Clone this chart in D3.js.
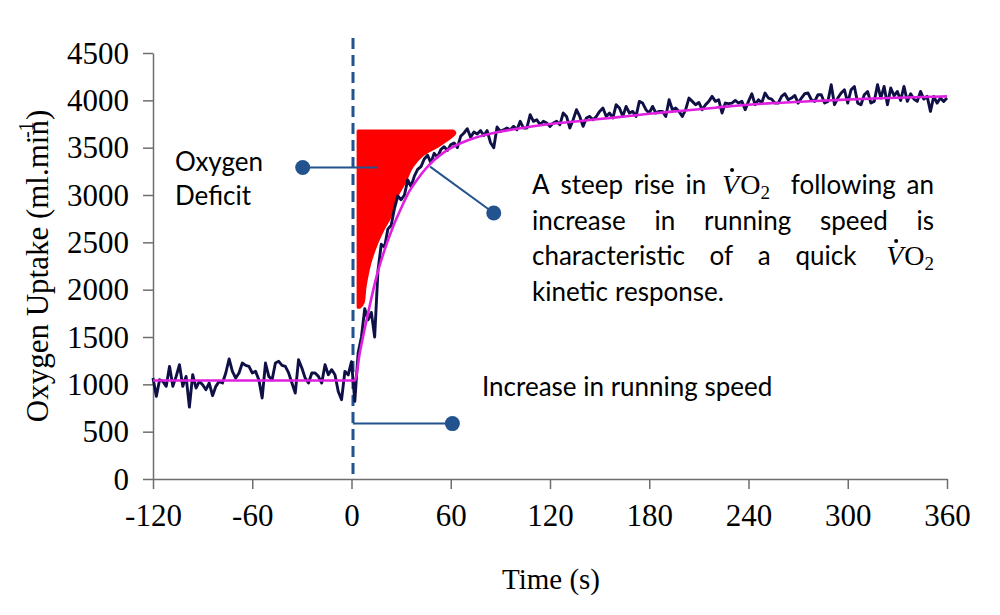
<!DOCTYPE html>
<html><head><meta charset="utf-8">
<script src="https://cdn.jsdelivr.net/npm/d3@7"></script>
<style>body{margin:0;background:#fff}svg{display:block}</style>
</head><body>
<svg id="c" width="1000" height="615"></svg>
<script>
// ---------- data ----------
const xTicks = [-120, -60, 0, 60, 120, 180, 240, 300, 360];
const yTicks = [0, 500, 1000, 1500, 2000, 2500, 3000, 3500, 4000, 4500];
const sampleStart = -120, sampleEnd = 360, sampleStep = 2; // breath samples every 2 s

// measured VO2 (ml/min), t = -120 .. 0
const vo2Baseline = [1066, 873, 1049, 1031, 979, 1190, 979, 1084, 1207, 979,
  1084, 760, 1102, 961, 1031, 996, 943, 1014, 880, 979,
  1031, 1014, 1120, 1268, 1137, 1066, 1120, 1225, 1200, 1190,
  1120, 1137, 1049, 856, 1225, 1084, 1049, 1225, 1243, 1200,
  1190, 1120, 1014, 908, 1260, 1172, 1066, 1014, 1120, 1120,
  1084, 1014, 1207, 1102, 1155, 1102, 925, 838, 1137, 1100, 1240];
// t = 2 .. 66
const vo2Rise = [820, 1330, 1500, 1800, 1680, 1760, 1500, 2200, 2480, 2450,
  2640, 2680, 2860, 2990, 2950, 3000, 3160, 3090, 3200, 3270,
  3300, 3380, 3420, 3340, 3440, 3400, 3480, 3510, 3470, 3530,
  3550, 3500, 3620];
// t = 68 .. 208
const vo2Plateau1 = [3655, 3700, 3610, 3665, 3645, 3680, 3628, 3680, 3555, 3500,
  3718, 3672, 3690, 3707, 3690, 3725, 3690, 3778, 3707, 3707,
  3848, 3778, 3795, 3743, 3778, 3760, 3725, 3760, 3778, 3743,
  3866, 3830, 3707, 3795, 3901, 3830, 3725, 3813, 3830, 3795,
  3830, 3883, 3919, 3830, 3866, 3813, 3954, 3919, 3830, 3936,
  3866, 3883, 3830, 3989, 3971, 3901, 3866, 3936, 3866, 3883,
  3883, 3830, 4006, 3901, 3919, 3883, 3830, 3901, 4024, 3989, 3954];
// t = 210 .. 360
const vo2Plateau2 = [3978, 3901, 3954, 3989, 4042, 3989, 4006, 3866, 3971, 3965,
  3971, 3999, 3971, 3989, 3901, 3989, 4070, 3954, 4006, 3971,
  4077, 4024, 4013, 3971, 3971, 4042, 4070, 4006, 4024, 4052,
  3971, 4024, 4070, 4077, 4006, 3989, 4059, 4059, 3971, 3989,
  4165, 3954, 4024, 4077, 4112, 3971, 4112, 4147, 3971, 3954,
  4059, 4094, 3971, 3989, 4165, 4024, 4147, 3954, 4130, 4048,
  4094, 3999, 4147, 3989, 4070, 4013, 3989, 4094, 4013, 4042,
  3883, 4042, 3971, 4024, 3989, 4024];

// fitted kinetic response
const fitTimes  = [-120, 0, 2, 5, 10, 15, 20, 25, 30, 35, 40, 45, 50, 55, 60, 70, 80, 90, 100, 120, 140, 160, 180, 200, 220, 240, 260, 280, 300, 320, 340, 360];
const fitValues = [1040, 1040, 1040, 1330, 1750, 2130, 2420, 2660, 2860, 3040, 3170, 3280, 3370, 3440, 3495, 3575, 3630, 3670, 3700, 3750, 3785, 3820, 3858, 3890, 3922, 3954, 3975, 3993, 4008, 4022, 4033, 4042];

// oxygen deficit shading
const deficitLeftTime = 4;
const deficitValues     = [3675, 3655, 3531, 3426, 3299, 3140, 2950, 2771, 2633, 2496, 2285, 2031, 1862, 1815];
const deficitRightTimes = [61.5, 62.5, 53.5, 43.2, 36.6, 32.3, 26.3, 23.3, 19.0, 15.4, 11.2, 8.2, 7.0, 5.0];

// annotation text
const yTitle = "Oxygen Uptake (ml.min)";
const yTitleSup = "-1";
const xTitle = "Time (s)";
const deficitLabel = ["Oxygen", "Deficit"];
const speedLabel = "Increase in running speed";
const paraLines = [
  ["A", "steep", "rise", "in", "VO2", "following", "an"],
  ["increase", "in", "running", "speed", "is"],
  ["characteristic", "of", "a", "quick", "VO2"],
  ["kinetic", "response."]
];

// ---------- chart ----------
const svg = d3.select("#c");
const x = d3.scaleLinear().domain([-120, 360]).range([153, 947]);
const y = d3.scaleLinear().domain([0, 4500]).range([479, 53]);
const serif = "'Liberation Serif','Times New Roman',serif";
const sans = "Lato, 'Open Sans', sans-serif";
const sansSize = 26;
const navy = "#0f1046", magenta = "#e020e0", blue = "#23538f", axisCol = "#6e6e6e";

const vo2All = vo2Baseline.concat(vo2Rise, vo2Plateau1, vo2Plateau2);
const times = d3.range(sampleStart, sampleEnd + 1, sampleStep);
const vo2Data = times.map((t, i) => ({t, v: vo2All[i]}));

// axes
const fmt = d => String(d);
const yAxis = d3.axisLeft(y).tickValues(yTicks).tickFormat(fmt).tickSizeInner(10).tickSizeOuter(0).tickPadding(14);
const xAxis = d3.axisBottom(x).tickValues(xTicks).tickFormat(fmt).tickSizeInner(10).tickSizeOuter(0).tickPadding(27);
const gy = svg.append("g").attr("transform", "translate(153,0)").call(yAxis);
const gx = svg.append("g").attr("transform", "translate(0,479)").call(xAxis);
[gx, gy].forEach(g => {
  g.selectAll("path,line").attr("stroke", axisCol).attr("stroke-width", 1.5);
  g.selectAll("text").attr("font-family", serif).attr("font-size", 31).attr("fill", "#000");
});
gy.selectAll("text").attr("dy", "0.33em");
gx.selectAll("text").attr("dy", "0.33em");

// deficit area
const defData = deficitValues.map((v, i) => ({v, r: deficitRightTimes[i]}));
svg.append("path").datum(defData)
  .attr("d", d3.area().y(d => y(d.v)).x0(x(deficitLeftTime)).x1(d => x(d.r)).curve(d3.curveCatmullRom))
  .attr("fill", "#ff0000").attr("stroke", "#ff0000").attr("stroke-width", 3).attr("stroke-linejoin", "round");

// dashed onset line
svg.append("line").attr("x1", x(0) + 1.5).attr("x2", x(0) + 1.5).attr("y1", 38).attr("y2", 479)
  .attr("stroke", blue).attr("stroke-width", 3).attr("stroke-dasharray", "11,6");

// noisy VO2
svg.append("path").datum(vo2Data)
  .attr("d", d3.line().x(d => x(d.t)).y(d => y(d.v)))
  .attr("fill", "none").attr("stroke", navy).attr("stroke-width", 2.9).attr("stroke-linejoin", "round");

// fit
svg.append("path").datum(fitTimes.map((t, i) => ({t, v: fitValues[i]})))
  .attr("d", d3.line().x(d => x(d.t)).y(d => y(d.v)).curve(d3.curveMonotoneX))
  .attr("fill", "none").attr("stroke", magenta).attr("stroke-width", 2.6);

// annotation pointers
function pointer(t0, v0, t1, v1) {
  svg.append("line").attr("x1", x(t0)).attr("y1", y(v0)).attr("x2", x(t1)).attr("y2", y(v1))
    .attr("stroke", blue).attr("stroke-width", 2);
  svg.append("circle").attr("cx", x(t1)).attr("cy", y(v1)).attr("r", 7.5).attr("fill", blue);
}
pointer(15.5, 3290, -29.5, 3290);
pointer(47.5, 3300, 86, 2810);
pointer(0.8, 585, 61, 585);

// text labels
const dl = svg.append("text").attr("font-family", sans).attr("font-size", sansSize).attr("fill", "#000");
dl.append("tspan").attr("x", 175).attr("y", 171).text(deficitLabel[0]);
dl.append("tspan").attr("x", 175).attr("y", 205).text(deficitLabel[1]);
svg.append("text").attr("x", 482).attr("y", 396).attr("font-family", sans).attr("font-size", sansSize).text(speedLabel);

// justified paragraph
const paraLeft = 532, paraRight = 934, paraBase = [194, 230, 265, 301];
paraLines.forEach((words, li) => {
  const toks = words.map(w => {
    const g = svg.append("g");
    let width;
    if (w === "VO2") {
      const t = g.append("text").attr("font-family", serif).attr("font-size", 28).attr("x", 5);
      t.append("tspan").attr("font-style", "italic").text("V");
      t.append("tspan").attr("dx", 1).text("O");
      t.append("tspan").attr("font-size", 19).attr("dy", 5).text("2");
      g.append("circle").attr("cx", 15).attr("cy", -24).attr("r", 2).attr("fill", "#000");
      width = t.node().getComputedTextLength() + 16;
    } else {
      const t = g.append("text").attr("font-family", sans).attr("font-size", sansSize).text(w);
      width = t.node().getComputedTextLength();
    }
    return {g, width, vo2: w === "VO2"};
  });
  const total = d3.sum(toks, d => d.width);
  const last = li === paraLines.length - 1;
  const endTrim = toks[toks.length - 1].vo2 ? 10 : 0;
  const gap = last ? 7 : (paraRight + endTrim - paraLeft - total) / (toks.length - 1);
  let cx = paraLeft;
  toks.forEach(tk => { tk.g.attr("transform", `translate(${cx},${paraBase[li]})`); cx += tk.width + gap; });
});

// axis titles
const yt = svg.append("text").attr("transform", "translate(48,266) rotate(-90)")
  .attr("text-anchor", "middle").attr("font-family", serif).attr("font-size", 31).text(yTitle);
const full = yt.node().getComputedTextLength();
const upto = yt.node().getSubStringLength(0, yTitle.length - 1);
svg.append("text").attr("transform", `translate(48,266) rotate(-90) translate(${-full / 2 + upto - 18},-15)`)
  .attr("font-family", serif).attr("font-size", 20).text(yTitleSup);
svg.append("text").attr("x", 551).attr("y", 589).attr("text-anchor", "middle")
  .attr("font-family", serif).attr("font-size", 29).text(xTitle);
</script>
</body></html>
